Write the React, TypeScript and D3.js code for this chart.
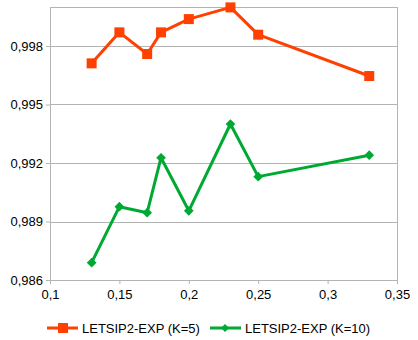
import { useEffect, useRef } from 'react'
import * as d3 from 'd3'

const xValues = [0.13, 0.15, 0.17, 0.18, 0.2, 0.23, 0.25, 0.33]
const k5Values = [0.99711, 0.9987, 0.99759, 0.9987, 0.99938, 0.99998, 0.99858, 0.99646]
const k10Values = [0.98689, 0.98976, 0.98945, 0.99227, 0.98955, 0.994, 0.9913, 0.9924]
const xTicks = [0.1, 0.15, 0.2, 0.25, 0.3, 0.35]
const yTicks = [0.986, 0.989, 0.992, 0.995, 0.998]
const seriesNames = ['LETSIP2-EXP (K=5)', 'LETSIP2-EXP (K=10)']

const ORANGE = '#ff4000'
const GREEN = '#00a933'
const GRID = '#b3b3b3'
const FONT = '"Liberation Sans", Arial, sans-serif'

export default function App() {
  const svgRef = useRef<SVGSVGElement>(null)
  const width = 418
  const height = 340

  useEffect(() => {
    const el = svgRef.current
    if (!el) return

    const margin = { top: 7, right: 21, bottom: 60, left: 50 }
    const w = width - margin.left - margin.right
    const h = height - margin.top - margin.bottom

    const x = d3.scaleLinear().domain([0.1, 0.35]).range([0, w])
    const y = d3.scaleLinear().domain([0.986, 1.0]).range([h, 0])
    const fmt = (d: number) => String(d).replace('.', ',')

    const svg = d3.select(el)
    svg.selectAll('*').remove()
    const g = svg.append('g').attr('transform', `translate(${margin.left},${margin.top})`)

    // grid + frame
    g.selectAll('line.grid')
      .data([...yTicks, 1.0])
      .join('line')
      .attr('x1', 0).attr('x2', w)
      .attr('y1', d => Math.round(y(d)) + 0.5).attr('y2', d => Math.round(y(d)) + 0.5)
      .attr('stroke', GRID)
    g.append('line').attr('x1', 0.5).attr('x2', 0.5).attr('y1', 0).attr('y2', h).attr('stroke', GRID)
    g.append('line').attr('x1', w + 0.5).attr('x2', w + 0.5).attr('y1', 0).attr('y2', h).attr('stroke', GRID)

    // y axis
    g.append('g')
      .call(d3.axisLeft(y).tickValues(yTicks).tickFormat(d => fmt(+d)).tickSize(4).tickPadding(3))
      .call(ax => ax.select('.domain').remove())
      .call(ax => ax.selectAll('line').attr('stroke', GRID))
      .call(ax => ax.selectAll('text').attr('fill', '#000').attr('font-family', FONT).attr('font-size', '13px'))

    // x axis
    g.append('g')
      .attr('transform', `translate(0,${h})`)
      .call(d3.axisBottom(x).tickValues(xTicks).tickFormat(d => fmt(+d)).tickSize(4).tickPadding(6))
      .call(ax => ax.select('.domain').remove())
      .call(ax => ax.selectAll('line').attr('stroke', GRID))
      .call(ax => ax.selectAll('text').attr('fill', '#000').attr('font-family', FONT).attr('font-size', '13px'))

    const line = d3.line<number>().x((_, i) => x(xValues[i])).y(d => y(d))

    // K=5 series
    g.append('path').datum(k5Values).attr('d', line)
      .attr('fill', 'none').attr('stroke', ORANGE).attr('stroke-width', 3).attr('stroke-linejoin', 'round')
    g.selectAll('rect.k5').data(k5Values).join('rect')
      .attr('x', (_, i) => x(xValues[i]) - 5).attr('y', d => y(d) - 5)
      .attr('width', 10).attr('height', 10).attr('fill', ORANGE)

    // K=10 series
    const diamond = d3.symbol().type(d3.symbolDiamond2).size(60)
    g.append('path').datum(k10Values).attr('d', line)
      .attr('fill', 'none').attr('stroke', GREEN).attr('stroke-width', 3).attr('stroke-linejoin', 'round')
    g.selectAll('path.k10').data(k10Values).join('path')
      .attr('transform', (d, i) => `translate(${x(xValues[i])},${y(d)})`)
      .attr('d', diamond).attr('fill', GREEN)

    // legend
    const legend = svg.append('g').attr('transform', 'translate(0,328)')
    const items = [
      { name: seriesNames[0], color: ORANGE, x0: 47, square: true },
      { name: seriesNames[1], color: GREEN, x0: 210, square: false },
    ]
    items.forEach(it => {
      const lg = legend.append('g').attr('transform', `translate(${it.x0},0)`)
      lg.append('line').attr('x1', 0).attr('x2', 31).attr('y1', 0).attr('y2', 0)
        .attr('stroke', it.color).attr('stroke-width', 3)
      if (it.square) {
        lg.append('rect').attr('x', 11).attr('y', -5).attr('width', 10).attr('height', 10).attr('fill', it.color)
      } else {
        lg.append('path').attr('transform', 'translate(15,0)')
          .attr('d', d3.symbol().type(d3.symbolDiamond2).size(40)()).attr('fill', it.color)
      }
      lg.append('text').attr('x', 35).attr('y', 0).attr('dy', '0.35em')
        .attr('font-family', FONT).attr('font-size', '13px').attr('fill', '#000')
        .text(it.name)
    })
  }, [])

  return (
    <svg
      ref={svgRef}
      width={width}
      height={height}
      style={{ display: 'block', position: 'absolute', left: 0, top: 0, background: '#fff' }}
    />
  )
}
